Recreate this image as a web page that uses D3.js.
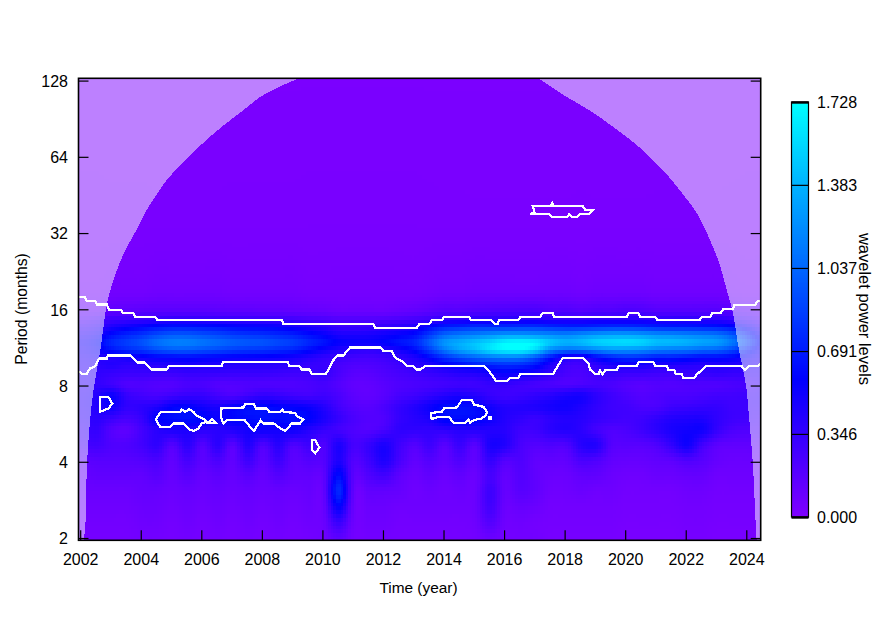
<!DOCTYPE html>
<html>
<head>
<meta charset="utf-8">
<script src="https://cdn.jsdelivr.net/npm/d3@7"></script>
<style>
html,body{margin:0;padding:0;background:#fff}
svg{display:block}
text{font-family:"Liberation Sans",Arial,sans-serif;fill:#000}
</style>
</head>
<body>
<svg id="chart" width="876" height="638"></svg>
<script>
// ---------- data ----------
const yearTicks = [2002,2004,2006,2008,2010,2012,2014,2016,2018,2020,2022,2024];
const periodTicks = [2,4,8,16,32,64,128];
const legendTicks = [0,0.346,0.691,1.037,1.383,1.728];
const powerMax = 1.728;
const gridYears = [2002,2002.5,2003,2003.5,2004,2004.5,2005,2005.5,2006,2006.5,2007,2007.5,2008,2008.5,2009,2009.5,2010,2010.5,2011,2011.5,2012,2012.5,2013,2013.5,2014,2014.5,2015,2015.5,2016,2016.5,2017,2017.5,2018,2018.5,2019,2019.5,2020,2020.5,2021,2021.5,2022,2022.5,2023,2023.5,2024,2024.5];
const gridLog2Periods = [7.03,5,4.2,3.95,3.85,3.75,3.65,3.55,3.45,3.35,3.25,3.15,3,2.85,2.7,2.55,2.4,2.2,2,1.8,1.6,1.4,1.2,0.97];

const p703 = [.02,.02,.02,.02,.02,.02,.02,.02,.02,.02,.02,.02,.02,.02,.02,.02,.02,.02,.02,.02,.02,.02,.02,.02,.02,.02,.02,.02,.02,.02,.02,.02,.02,.02,.02,.02,.02,.02,.02,.02,.02,.02,.02,.02,.02,.02];
const p500 = [.03,.03,.03,.03,.03,.03,.03,.03,.03,.03,.03,.03,.03,.03,.03,.03,.03,.03,.03,.03,.03,.03,.03,.03,.03,.03,.03,.03,.03,.03,.03,.03,.03,.03,.03,.03,.03,.03,.03,.03,.03,.03,.03,.03,.03,.03];
const p420 = [.05,.05,.06,.06,.06,.07,.07,.07,.07,.07,.06,.06,.06,.06,.06,.05,.05,.05,.05,.05,.05,.05,.05,.06,.07,.07,.08,.08,.08,.08,.08,.08,.08,.07,.08,.08,.08,.08,.07,.07,.07,.07,.07,.06,.05,.05];
const p395 = [.12,.12,.15,.16,.17,.18,.18,.18,.18,.17,.16,.16,.15,.15,.14,.13,.12,.1,.1,.1,.1,.12,.14,.17,.2,.2,.22,.23,.24,.25,.25,.22,.22,.2,.22,.22,.24,.23,.2,.2,.2,.2,.2,.18,.15,.12];
const p385 = [.2,.25,.3,.32,.34,.36,.38,.38,.37,.36,.35,.34,.33,.32,.3,.27,.25,.22,.22,.22,.23,.25,.28,.32,.38,.4,.42,.42,.42,.42,.42,.4,.4,.4,.42,.42,.42,.42,.4,.4,.4,.38,.38,.34,.28,.2];
const p375 = [.3,.35,.45,.52,.58,.64,.68,.68,.66,.64,.6,.58,.57,.55,.5,.45,.4,.33,.32,.33,.36,.4,.46,.6,.72,.76,.8,.8,.8,.82,.82,.78,.75,.75,.78,.8,.8,.78,.74,.72,.72,.7,.68,.62,.48,.32];
const p365 = [.38,.45,.62,.72,.8,.9,.96,.96,.92,.88,.83,.8,.78,.74,.7,.62,.55,.46,.45,.46,.5,.55,.62,.82,1.02,1.1,1.15,1.2,1.25,1.25,1.22,1.18,1.15,1.2,1.25,1.28,1.28,1.25,1.2,1.18,1.15,1.12,1.08,.95,.7,.45];
const p355 = [.45,.55,.75,.85,.95,1.08,1.15,1.15,1.1,1.05,1,.97,.95,.9,.85,.75,.66,.56,.53,.53,.58,.66,.75,1,1.25,1.35,1.45,1.55,1.68,1.72,1.66,1.48,1.38,1.42,1.52,1.56,1.58,1.54,1.44,1.42,1.38,1.32,1.28,1.12,.85,.55];
const p345 = [.42,.5,.65,.75,.82,.92,.98,.98,.94,.9,.85,.82,.8,.76,.72,.62,.52,.44,.4,.38,.42,.5,.62,.85,1.12,1.3,1.42,1.58,1.68,1.7,1.54,1.2,1.08,1.1,1.18,1.25,1.25,1.22,1.15,1.12,1.1,1.05,1.02,.9,.68,.45];
const p335 = [.38,.42,.42,.48,.52,.58,.6,.62,.6,.58,.56,.55,.54,.52,.48,.42,.36,.32,.28,.27,.3,.36,.45,.6,.78,.92,1.02,1.1,1.14,1.12,.95,.68,.46,.42,.6,.72,.78,.76,.7,.7,.66,.62,.62,.58,.48,.38];
const p325 = [.36,.38,.42,.38,.4,.42,.44,.46,.44,.44,.42,.42,.41,.4,.38,.34,.32,.26,.22,.22,.25,.3,.38,.44,.54,.6,.68,.74,.78,.76,.66,.44,.3,.28,.38,.46,.48,.48,.44,.44,.42,.4,.42,.42,.4,.36];
const p315 = [.35,.36,.34,.32,.32,.32,.32,.34,.34,.34,.33,.33,.33,.32,.3,.3,.34,.25,.18,.18,.22,.26,.3,.34,.38,.42,.44,.5,.56,.52,.46,.36,.26,.24,.3,.34,.32,.32,.3,.3,.34,.34,.36,.34,.34,.34];
const p300 = [.35,.35,.3,.22,.22,.2,.2,.24,.24,.2,.2,.22,.22,.22,.22,.24,.26,.2,.14,.14,.18,.22,.24,.26,.28,.3,.3,.34,.34,.3,.26,.24,.22,.24,.26,.24,.2,.18,.2,.2,.22,.22,.22,.24,.26,.3];
const p285 = [.36,.42,.52,.34,.28,.26,.3,.34,.34,.28,.24,.3,.36,.34,.3,.28,.3,.24,.16,.14,.18,.26,.3,.36,.42,.46,.42,.34,.3,.32,.36,.4,.46,.48,.38,.3,.24,.2,.22,.24,.24,.26,.28,.28,.3,.32];
const p270 = [.36,.42,.5,.36,.38,.44,.56,.58,.5,.46,.55,.62,.62,.58,.56,.52,.42,.28,.2,.18,.24,.34,.42,.52,.62,.64,.6,.5,.42,.42,.44,.48,.5,.44,.36,.3,.28,.24,.24,.3,.32,.34,.34,.3,.3,.3];
const p255 = [.34,.38,.32,.26,.34,.56,.62,.64,.6,.52,.58,.62,.64,.62,.64,.58,.46,.34,.24,.2,.22,.34,.4,.46,.6,.62,.6,.52,.42,.36,.32,.38,.42,.4,.34,.3,.28,.3,.36,.42,.44,.44,.36,.3,.28,.26];
const p240 = [.3,.34,.2,.16,.28,.4,.46,.46,.4,.4,.44,.5,.52,.5,.52,.42,.34,.28,.22,.2,.26,.36,.36,.36,.38,.42,.42,.42,.4,.3,.3,.38,.42,.38,.28,.22,.24,.3,.38,.46,.5,.5,.34,.24,.22,.22];
const p220 = [.25,.28,.22,.22,.28,.36,.2,.38,.2,.38,.18,.42,.22,.4,.22,.3,.22,.45,.26,.34,.46,.3,.2,.3,.18,.32,.18,.46,.42,.25,.2,.22,.22,.4,.42,.2,.18,.18,.22,.35,.5,.28,.16,.14,.14,.14];
const p200 = [.16,.18,.18,.18,.2,.24,.14,.26,.16,.24,.14,.3,.16,.3,.16,.2,.2,.45,.2,.3,.44,.26,.14,.2,.14,.22,.14,.34,.2,.22,.14,.14,.14,.24,.22,.14,.12,.12,.14,.16,.22,.18,.12,.1,.1,.1];
const p180 = [.12,.14,.14,.14,.14,.18,.12,.18,.12,.16,.12,.18,.12,.2,.14,.14,.16,.62,.16,.22,.28,.16,.1,.14,.1,.14,.1,.26,.13,.2,.14,.1,.1,.14,.14,.1,.08,.08,.1,.1,.12,.12,.08,.08,.08,.08];
const p160 = [.1,.1,.1,.1,.12,.12,.1,.12,.1,.12,.1,.12,.1,.12,.1,.12,.14,.75,.12,.14,.14,.12,.08,.1,.08,.1,.1,.3,.12,.18,.14,.08,.08,.1,.08,.08,.06,.06,.06,.06,.08,.08,.06,.06,.06,.06];
const p140 = [.08,.08,.08,.08,.1,.1,.08,.1,.08,.1,.08,.1,.08,.1,.08,.1,.12,.58,.1,.1,.1,.08,.08,.08,.08,.08,.1,.28,.1,.12,.1,.06,.06,.06,.06,.06,.05,.05,.05,.05,.06,.06,.05,.05,.05,.05];
const p120 = [.06,.06,.06,.06,.08,.08,.06,.08,.06,.08,.06,.08,.06,.08,.06,.08,.1,.33,.08,.08,.08,.06,.06,.06,.06,.06,.08,.2,.08,.08,.06,.05,.05,.05,.05,.05,.04,.04,.04,.04,.05,.05,.04,.04,.04,.04];
const p097 = [.05,.05,.05,.05,.06,.06,.05,.06,.05,.06,.05,.06,.05,.06,.05,.06,.08,.16,.06,.06,.06,.05,.05,.05,.05,.05,.06,.1,.06,.06,.06,.04,.04,.04,.04,.04,.03,.03,.03,.03,.04,.04,.03,.03,.03,.03];
const powerRows = [p703,p500,p420,p395,p385,p375,p365,p355,p345,p335,p325,p315,p300,p285,p270,p255,p240,p220,p200,p180,p160,p140,p120,p097];
powerRows.forEach((r,i)=>{ if(r.length!==gridYears.length) throw new Error("row "+i+" has "+r.length); });

// cone of influence edges: [year, log2 period]
const coiLeft = [[2002.11,.97],[2002.16,1.104],[2002.23,2.008],[2002.36,2.676],[2002.46,2.991],[2002.68,3.506],[2002.84,3.97],[2002.95,4.187],[2003.12,4.406],[2003.32,4.625],[2003.58,4.843],[2003.89,5.062],[2004.16,5.28],[2004.51,5.498],[2004.9,5.717],[2005.43,5.936],[2005.98,6.153],[2006.61,6.372],[2007.32,6.591],[2008.04,6.809],[2009.22,7.03]];
const coiRight = [[2017.14,7.03],[2017.97,6.809],[2018.9,6.591],[2019.67,6.372],[2020.39,6.153],[2020.97,5.936],[2021.49,5.717],[2021.93,5.498],[2022.34,5.28],[2022.63,5.062],[2022.87,4.843],[2023.09,4.625],[2023.25,4.406],[2023.4,4.187],[2023.55,3.97],[2023.74,3.506],[2023.99,3.004],[2024.07,2.676],[2024.21,2.008],[2024.32,1.104],[2024.34,.97]];

// significance contours: [year, log2 period]
const contourUpper = [[2001.97,4.161],[2002.16,4.161],[2002.21,4.109],[2002.49,4.109],[2002.55,4.062],[2002.88,4.062],[2002.96,3.996],[2003.35,3.996],[2003.4,3.952],[2003.75,3.952],[2003.81,3.899],[2004.47,3.899],[2004.56,3.856],[2008.66,3.856],[2008.71,3.807],[2011.68,3.807],[2011.74,3.755],[2013.12,3.755],[2013.2,3.807],[2013.53,3.807],[2013.61,3.856],[2013.94,3.856],[2014.02,3.899],[2014.85,3.899],[2014.91,3.856],[2015.59,3.856],[2015.7,3.803],[2015.78,3.803],[2015.84,3.856],[2016.47,3.856],[2016.53,3.899],[2017.19,3.899],[2017.28,3.952],[2017.6,3.952],[2017.65,3.899],[2020.05,3.899],[2020.13,3.952],[2020.44,3.952],[2020.49,3.899],[2020.99,3.899],[2021.07,3.856],[2022.45,3.856],[2022.53,3.899],[2022.81,3.899],[2022.87,3.952],[2023.16,3.952],[2023.23,4],[2023.56,4],[2023.6,4.052],[2024.29,4.052],[2024.37,4.105],[2024.46,4.105]];
const contourLower = [[2001.97,3.191],[2002.05,3.148],[2002.21,3.148],[2002.32,3.223],[2002.49,3.253],[2002.63,3.354],[2002.88,3.354],[2002.91,3.393],[2003.65,3.393],[2003.81,3.332],[2003.89,3.301],[2004.14,3.301],[2004.36,3.21],[2004.86,3.21],[2004.93,3.257],[2006.67,3.257],[2006.73,3.309],[2008.85,3.309],[2008.91,3.257],[2009.24,3.257],[2009.32,3.21],[2009.57,3.21],[2009.65,3.148],[2010.11,3.148],[2010.22,3.223],[2010.36,3.332],[2010.49,3.393],[2010.69,3.393],[2010.91,3.498],[2011.93,3.498],[2012.01,3.453],[2012.29,3.453],[2012.4,3.367],[2012.67,3.309],[2012.79,3.257],[2013,3.257],[2013.12,3.21],[2013.23,3.21],[2013.39,3.253],[2015.34,3.253],[2015.48,3.201],[2015.74,3.06],[2016.11,3.06],[2016.2,3.1],[2016.47,3.1],[2016.53,3.148],[2017.61,3.148],[2017.94,3.362],[2018.6,3.362],[2018.79,3.288],[2018.84,3.21],[2019.01,3.148],[2019.12,3.148],[2019.17,3.201],[2019.25,3.148],[2019.34,3.201],[2019.72,3.201],[2019.78,3.253],[2020.38,3.253],[2020.44,3.309],[2020.93,3.309],[2020.99,3.253],[2021.39,3.253],[2021.43,3.201],[2021.62,3.201],[2021.67,3.148],[2021.87,3.148],[2021.92,3.1],[2022.28,3.1],[2022.37,3.148],[2022.53,3.201],[2022.67,3.253],[2023.85,3.253],[2023.96,3.201],[2024.07,3.253],[2024.37,3.253],[2024.46,3.288]];
const blobA = [[2002.65,2.654],[2002.65,2.851],[2002.93,2.851],[2003.06,2.764],[2002.93,2.699]];
const blobB = [[2004.5,2.554],[2004.66,2.654],[2005.3,2.654],[2005.35,2.689],[2005.46,2.654],[2005.6,2.689],[2005.74,2.654],[2005.87,2.598],[2006.12,2.554],[2006.18,2.523],[2006.01,2.502],[2005.9,2.436],[2005.74,2.405],[2005.6,2.423],[2005.41,2.502],[2005.08,2.502],[2004.97,2.457],[2004.64,2.457]];
const blobC = [[2006.23,2.51],[2006.36,2.562],[2006.49,2.51]];
const blobD = [[2006.64,2.699],[2007.39,2.712],[2007.44,2.755],[2007.74,2.755],[2007.81,2.699],[2008.16,2.699],[2008.25,2.654],[2008.6,2.654],[2008.68,2.689],[2008.73,2.654],[2009.1,2.641],[2009.15,2.598],[2009.37,2.554],[2009.26,2.502],[2008.99,2.502],[2008.77,2.405],[2008.62,2.436],[2008.4,2.502],[2008.05,2.502],[2007.96,2.545],[2007.74,2.405],[2007.61,2.457],[2007.44,2.545],[2006.84,2.545],[2006.73,2.502],[2006.64,2.589]];
const blobE = [[2009.65,2.283],[2009.76,2.283],[2009.9,2.187],[2009.76,2.109],[2009.65,2.152]];
const blobF = [[2016.95,5.35],[2017.54,5.35],[2017.59,5.393],[2017.63,5.35],[2018.6,5.35],[2018.68,5.307],[2018.93,5.298],[2018.79,5.245],[2018.51,5.245],[2018.4,5.21],[2018.24,5.21],[2018.15,5.245],[2018.07,5.21],[2017.58,5.21],[2017.5,5.245],[2016.86,5.245],[2017,5.275]];
const blobG = [[2013.58,2.641],[2013.94,2.654],[2014.02,2.699],[2014.44,2.712],[2014.6,2.807],[2014.93,2.807],[2015.01,2.751],[2015.32,2.72],[2015.43,2.654],[2015.4,2.611],[2015.26,2.568],[2014.99,2.545],[2014.88,2.515],[2014.82,2.554],[2014.71,2.51],[2014.33,2.51],[2014.19,2.589],[2013.83,2.589],[2013.61,2.558]];
const blobH = [[2015.51,2.585],[2015.56,2.585],[2015.56,2.567],[2015.51,2.567]];
const openContours = [contourUpper,contourLower];
const closedContours = [blobA,blobB,blobC,blobD,blobE,blobF,blobG,blobH];

// ---------- scales ----------
const yearMin = 2001.944, yearMax = 2024.476, periodMin = Math.pow(2,.97), periodMax = Math.pow(2,7.03);
const box = {left:78.5,right:760.7,top:78.3,bottom:540.3};
const x = d3.scaleLinear().domain([yearMin,yearMax]).range([box.left,box.right]);
const y = d3.scaleLog().base(2).domain([periodMin,periodMax]).range([box.bottom,box.top]);
const color = d3.scaleLinear().domain([0,powerMax/3,powerMax]).range(["#7f00ff","#0000ff","#00ffff"]).clamp(true);
const legendY = d3.scaleLinear().domain([0,powerMax]).range([517,102]);

const svg = d3.select("#chart");
svg.append("defs").append("clipPath").attr("id","plot").append("rect")
  .attr("x",box.left).attr("y",box.top).attr("width",box.right-box.left).attr("height",box.bottom-box.top);
const plot = svg.append("g").attr("clip-path","url(#plot)");

// ---------- heat map: the estimated grid rendered with smooth resampling at the monthly / 1-in-20-octave cell size ----------
const colIndex = d3.scaleLinear().domain(gridYears).range(d3.range(gridYears.length)).clamp(true);
const rowIndex = d3.scaleLinear().domain(gridLog2Periods).range(d3.range(gridLog2Periods.length)).clamp(true);
function spline(get,n,u){
  const i=Math.min(Math.floor(u),n-2), t=u-i;
  const a=get(Math.max(i-1,0)),b=get(i),c=get(i+1),d=get(Math.min(i+2,n-1));
  return 0.5*(2*b+(c-a)*t+(2*a-5*b+4*c-d)*t*t+(3*b-a-3*c+d)*t*t*t);
}
const cellYears = d3.range(yearMin,yearMax,1/12);
const cellLogs = d3.range(.97,7.03,.05);
const cells = [];
cellLogs.forEach(l=>{
  const ru=rowIndex(l);
  cellYears.forEach(t=>{
    const cu=colIndex(t);
    const v=spline(r=>spline(c=>powerRows[r][c],gridYears.length,cu),gridLog2Periods.length,ru);
    cells.push({t,l,v});
  });
});
plot.append("g").attr("shape-rendering","crispEdges").selectAll("rect").data(cells).join("rect")
  .attr("x",d=>x(d.t))
  .attr("y",d=>y(Math.pow(2,d.l+.05)))
  .attr("width",d=>x(d.t+1/12)-x(d.t)+.5)
  .attr("height",d=>y(Math.pow(2,d.l))-y(Math.pow(2,d.l+.05))+.5)
  .attr("fill",d=>color(Math.max(0,d.v)));

// ---------- cone of influence shading ----------
const line = d3.line().x(d=>x(d[0])).y(d=>y(Math.pow(2,d[1])));
const arc = d3.line().x(d=>x(d[0])).y(d=>y(Math.pow(2,d[1]))).curve(d3.curveCatmullRom.alpha(.5));
const px = d=>`L${x(d[0])},${y(Math.pow(2,d[1]))}`;
const shade = plot.append("g").attr("fill","#fff").attr("fill-opacity",.5).attr("shape-rendering","crispEdges");
shade.append("path").attr("d",arc(coiLeft)+px([yearMin,7.03])+px([yearMin,.97])+"Z");
shade.append("path").attr("d",arc(coiRight)+px([yearMax,.97])+px([yearMax,7.03])+"Z");

// ---------- contours ----------
const contourG = plot.append("g").attr("fill","none").attr("stroke","#fff").attr("stroke-width",2.2).attr("shape-rendering","crispEdges").attr("stroke-linejoin","miter");
openContours.forEach(c=>contourG.append("path").attr("d",line(c)));
closedContours.forEach(c=>contourG.append("path").attr("d",line(c)+"Z"));

// ---------- frame and ticks ----------
svg.append("rect").attr("x",box.left).attr("y",box.top).attr("width",box.right-box.left).attr("height",box.bottom-box.top)
  .attr("fill","none").attr("stroke","#000").attr("stroke-width",1.6);
const tickLen = 10;
const axisBottom = d3.axisBottom(x).tickValues(yearTicks).tickFormat(d3.format("d")).tickSize(-tickLen);
const gx = svg.append("g").attr("transform",`translate(0,${box.bottom})`).call(axisBottom);
gx.select(".domain").remove();
gx.selectAll("line").attr("stroke","#000").attr("stroke-width",1.2);
gx.selectAll("text").style("font-size","16px").attr("dy",null).attr("y",25);
const axisLeft = d3.axisLeft(y).tickValues(periodTicks).tickFormat(d3.format("d")).tickSize(-tickLen);
const gy = svg.append("g").attr("transform",`translate(${box.left},0)`).call(axisLeft);
gy.select(".domain").remove();
gy.selectAll("line").attr("stroke","#000").attr("stroke-width",1.2);
gy.selectAll("text").style("font-size","16px").attr("x",-10.5).attr("dy",".36em");
const axisRight = d3.axisRight(y).tickValues(periodTicks).tickFormat("").tickSize(-tickLen);
const gr = svg.append("g").attr("transform",`translate(${box.right},0)`).call(axisRight);
gr.select(".domain").remove();
gr.selectAll("line").attr("stroke","#000").attr("stroke-width",1.2);

// axis titles
svg.append("text").attr("x",418.5).attr("y",593).attr("text-anchor","middle").style("font-size","15.4px").text("Time (year)");
svg.append("text").attr("transform","translate(27,309) rotate(-90)").attr("text-anchor","middle").style("font-size","15.7px").text("Period (months)");

// ---------- legend ----------
const legendLevels = d3.range(0,250).map(i=>i*powerMax/250);
svg.append("g").attr("shape-rendering","crispEdges").selectAll("rect").data(legendLevels).join("rect")
  .attr("x",791.5).attr("width",17)
  .attr("y",d=>legendY(d+powerMax/250))
  .attr("height",d=>legendY(d)-legendY(d+powerMax/250)+.5)
  .attr("fill",d=>color(d+powerMax/500));
svg.append("rect").attr("x",791.5).attr("y",102).attr("width",17).attr("height",415).attr("fill","none").attr("stroke","#000").attr("stroke-width",1.2);
const legendAxis = d3.axisRight(legendY).tickValues(legendTicks).tickFormat(d3.format(".3f")).tickSize(-17);
const gl = svg.append("g").attr("transform","translate(808.5,0)").call(legendAxis);
gl.select(".domain").remove();
gl.selectAll("line").attr("stroke","#000").attr("stroke-width",d=>(d===0||d===powerMax)?2.4:1.2);
gl.selectAll("text").style("font-size","16px").attr("x",8.5).attr("dy",".36em");
svg.append("text").attr("transform","translate(859,309) rotate(90)").attr("text-anchor","middle").style("font-size","16.5px").text("wavelet power levels");
</script>
</body>
</html>
